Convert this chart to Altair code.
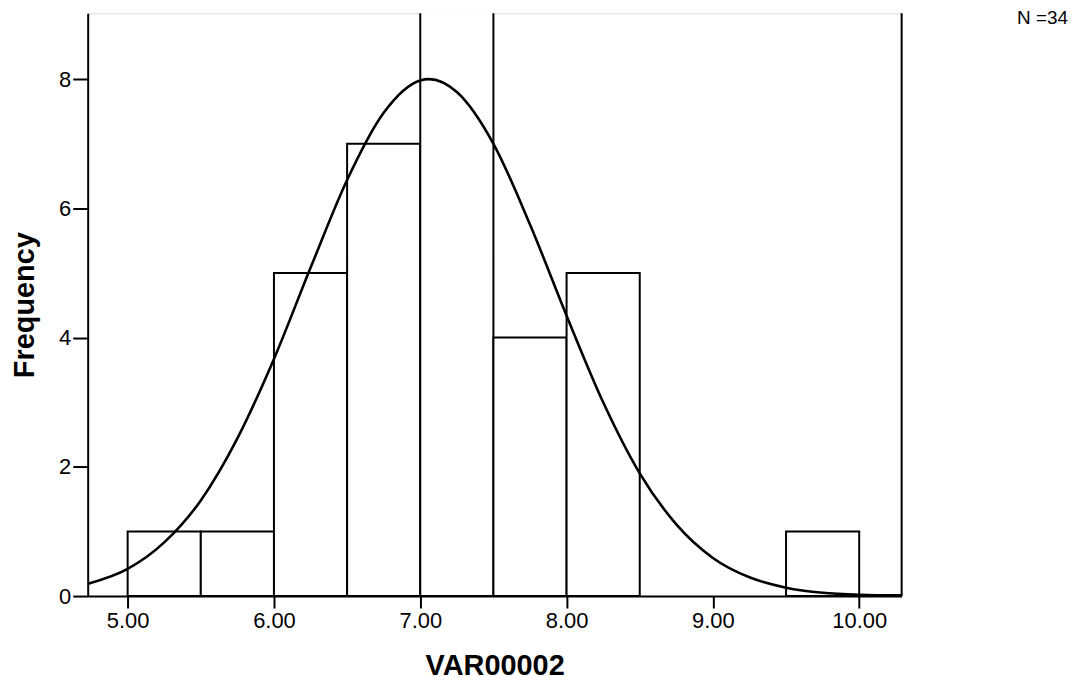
import altair as alt
import pandas as pd

# Histogram bins (VAR00002) and frequencies
bin_start = [5.0, 5.5, 6.0, 6.5, 7.0, 7.5, 8.0, 8.5, 9.0, 9.5]
bin_end = [5.5, 6.0, 6.5, 7.0, 7.5, 8.0, 8.5, 9.0, 9.5, 10.0]
counts = [1, 1, 5, 7, 10, 4, 5, 0, 0, 1]

# Fitted normal curve
curve_x = [4.73, 5.0, 5.25, 5.5, 5.75, 6.0, 6.25, 6.5, 6.75, 7.0, 7.06, 7.25, 7.5,
           7.75, 8.0, 8.25, 8.5, 8.75, 9.0, 9.25, 9.5, 9.75, 10.0, 10.29]
curve_y = [0.19, 0.42, 0.83, 1.48, 2.44, 3.67, 5.08, 6.44, 7.48, 7.98, 8.0, 7.80, 7.00,
           5.75, 4.34, 3.00, 1.90, 1.11, 0.59, 0.29, 0.13, 0.05, 0.02, 0.01]

x_ticks = [5.0, 6.0, 7.0, 8.0, 9.0, 10.0]
y_ticks = [0, 2, 4, 6, 8]

bars_df = pd.DataFrame({"start": bin_start, "end": bin_end, "count": counts})
bars_df = bars_df[bars_df["count"] > 0]
curve_df = pd.DataFrame({"x": curve_x, "y": curve_y})

FONT = "Liberation Sans"
W, H = 817, 585

xscale = alt.Scale(domain=[4.727, 10.29], nice=False, zero=False)
yscale = alt.Scale(domain=[0, 9.02], nice=False)

xaxis = alt.Axis(values=x_ticks, format=".2f", title="VAR00002", grid=False,
                 domainColor="black", domainWidth=2, tickColor="black", tickWidth=2,
                 tickSize=12, labelFontSize=22, labelColor="black", labelFont=FONT,
                 labelPadding=3, titleFont=FONT, titleFontSize=29, titleFontWeight="bold",
                 titleColor="black", titlePadding=20)
yaxis = alt.Axis(values=y_ticks, format="d", title="Frequency", grid=False,
                 domainColor="black", domainWidth=2, tickColor="black", tickWidth=2,
                 tickSize=15, labelFontSize=22, labelColor="black", labelFont=FONT,
                 labelPadding=2, titleFont=FONT, titleFontSize=29, titleFontWeight="bold",
                 titleColor="black", titlePadding=19)

bars = alt.Chart(bars_df).mark_rect(fill="white", stroke="black", strokeWidth=2, clip=True).encode(
    x=alt.X("start:Q", scale=xscale, axis=xaxis),
    x2="end:Q",
    y=alt.Y("count:Q", scale=yscale, axis=yaxis),
    y2=alt.datum(0),
)

curve = alt.Chart(curve_df).mark_line(color="black", strokeWidth=2.6, interpolate="monotone", clip=True).encode(
    x=alt.X("x:Q", scale=xscale),
    y=alt.Y("y:Q", scale=yscale),
)

frame = alt.Chart(pd.DataFrame({"a": [0]})).mark_rule(color="black", strokeWidth=2).encode(
    x=alt.value(W), y=alt.value(0), y2=alt.value(H)
)

ntext = alt.Chart(pd.DataFrame({"t": ["N =34"]})).mark_text(
    font=FONT, fontSize=19, color="black", align="right", baseline="middle"
).encode(x=alt.value(984), y=alt.value(5), text="t:N")

chart = alt.layer(bars, curve, frame, ntext).properties(
    width=W, height=H,
    autosize=alt.AutoSizeParams(type="none"),
    padding={"left": 80, "top": 4, "right": 170, "bottom": 86},
).configure_view(stroke=None).configure(background="white")

chart.save("out.html", embed_options={"renderer": "svg", "actions": False})
